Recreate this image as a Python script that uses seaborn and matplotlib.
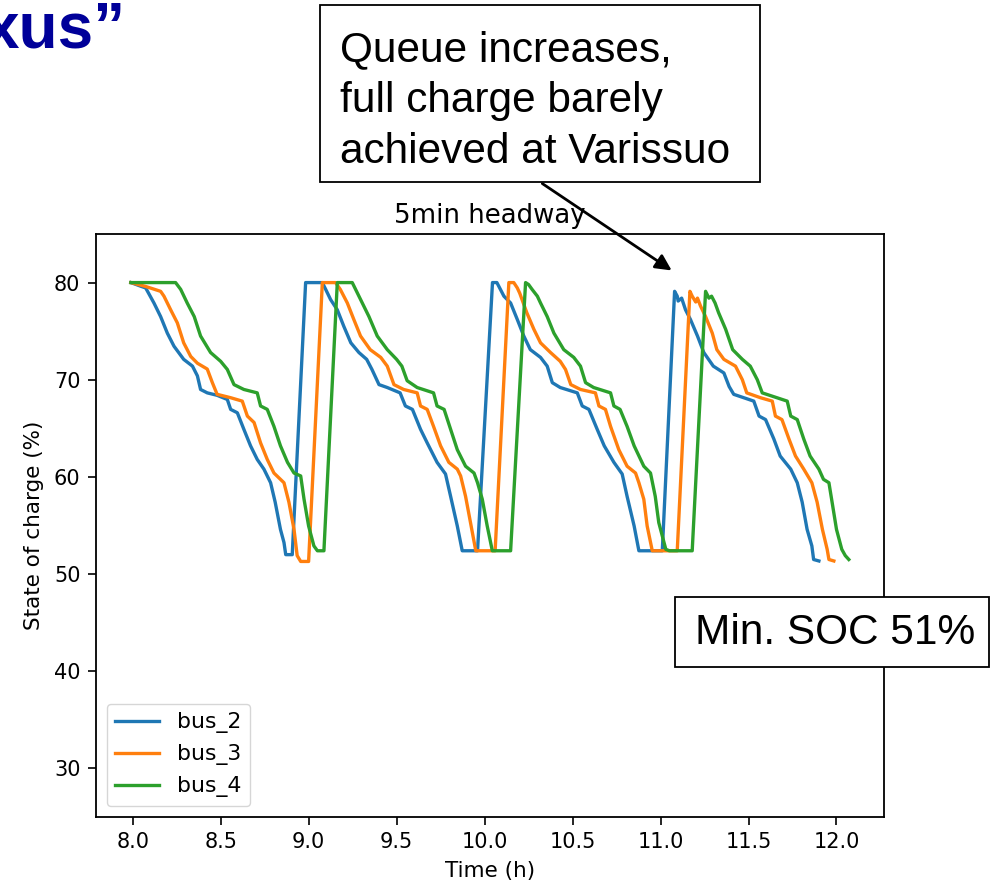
import matplotlib
matplotlib.use("Agg")
import matplotlib.pyplot as plt
import matplotlib.patches as mpatches
import seaborn as sns
import pandas as pd

# ---- data ----
bus2_t = [7.99, 8.05, 8.074, 8.121, 8.159, 8.197, 8.235, 8.29, 8.34, 8.368, 8.386, 8.424, 8.48, 8.538,
          8.557, 8.595, 8.632, 8.67, 8.708, 8.746, 8.784, 8.81, 8.84, 8.86, 8.87, 8.907, 8.983, 9.078,
          9.097, 9.125, 9.163, 9.2, 9.24, 9.286, 9.33, 9.36, 9.4, 9.447, 9.52, 9.55, 9.59, 9.636,
          9.674, 9.73, 9.778, 9.807, 9.845, 9.873, 9.96, 10.045, 10.07, 10.09, 10.11, 10.148, 10.186,
          10.223, 10.26, 10.318, 10.356, 10.385, 10.43, 10.527, 10.555, 10.593, 10.64, 10.68, 10.735,
          10.782, 10.81, 10.85, 10.877, 11.01, 11.08, 11.095, 11.10, 11.12, 11.142, 11.17, 11.21,
          11.246, 11.30, 11.36, 11.39, 11.416, 11.53, 11.56, 11.597, 11.644, 11.68, 11.74, 11.777,
          11.805, 11.833, 11.86, 11.87, 11.9]
bus2_soc = [80.0, 79.6, 79.45, 77.9, 76.5, 74.8, 73.45, 72.1, 71.4, 70.4, 69.0, 68.65, 68.4, 67.97,
            66.95, 66.6, 64.9, 63.2, 61.8, 60.8, 59.4, 57.4, 54.6, 53.25, 52.0, 52.0, 80.0, 80.0,
            79.3, 78.25, 77.2, 75.5, 73.8, 72.8, 72.1, 71.06, 69.5, 69.2, 68.65, 67.3, 66.95, 64.9,
            63.5, 61.5, 60.3, 58.0, 54.95, 52.4, 52.4, 80.0, 80.0, 79.3, 78.6, 77.9, 76.2,
            74.5, 73.1, 72.3, 71.4, 69.7, 69.2, 68.65, 67.3, 66.95, 64.9, 63.2, 61.5,
            60.3, 58.0, 54.95, 52.4, 52.4, 79.1, 78.6, 78.1, 78.4, 77.2, 76.2, 74.5,
            72.8, 71.4, 70.7, 69.3, 68.5, 67.8, 66.26, 65.9, 63.9, 62.15, 60.8, 59.4,
            57.4, 54.6, 52.9, 51.5, 51.35]

bus3_t = [7.99, 8.074, 8.159, 8.178, 8.216, 8.254, 8.29, 8.33, 8.368, 8.424, 8.453, 8.48, 8.557,
          8.623, 8.652, 8.69, 8.727, 8.765, 8.803, 8.86, 8.888, 8.917, 8.935, 8.955, 9.0, 9.078,
          9.153, 9.18, 9.22, 9.257, 9.295, 9.35, 9.41, 9.447, 9.485, 9.54, 9.617, 9.636, 9.674,
          9.71, 9.75, 9.797, 9.845, 9.864, 9.892, 9.92, 9.95, 10.06, 10.138, 10.166, 10.186, 10.2,
          10.24, 10.28, 10.318, 10.375, 10.43, 10.46, 10.49, 10.545, 10.63, 10.65, 10.687, 10.716,
          10.763, 10.81, 10.858, 10.877, 10.905, 10.924, 10.953, 11.095, 11.167, 11.18, 11.2, 11.21,
          11.227, 11.256, 11.294, 11.32, 11.36, 11.426, 11.465, 11.49, 11.568, 11.635, 11.653,
          11.69, 11.73, 11.767, 11.814, 11.86, 11.89, 11.92, 11.947, 11.957, 11.985]
bus3_soc = [80.0, 79.6, 79.1, 78.6, 77.2, 75.85, 73.8, 72.4, 71.7, 71.1, 69.7, 68.5, 68.15,
            67.8, 66.26, 65.6, 63.5, 61.8, 60.4, 59.4, 57.4, 54.6, 51.9, 51.3, 51.3, 80.0,
            80.0, 79.3, 77.9, 76.2, 74.5, 73.1, 72.3, 71.4, 69.5, 69.0, 68.65, 67.3, 66.95,
            65.2, 63.2, 61.5, 60.8, 60.1, 58.0, 55.3, 52.4, 52.4, 80.0, 80.0, 79.45, 78.9,
            76.9, 75.2, 73.8, 72.8, 71.9, 71.06, 69.5, 69.0, 68.65, 67.3, 66.95, 65.2,
            62.8, 61.1, 60.4, 59.4, 57.7, 54.95, 52.4, 52.4, 79.1, 78.6, 78.0, 78.4,
            77.6, 76.5, 74.8, 73.1, 72.1, 71.4, 70.0, 68.65, 68.15, 67.8, 66.26,
            65.9, 63.9, 62.15, 60.8, 59.4, 57.4, 54.6, 52.55, 51.5, 51.35]

bus4_t = [7.99, 8.244, 8.273, 8.31, 8.35, 8.386, 8.443, 8.5, 8.538, 8.576, 8.632, 8.708, 8.727,
          8.765, 8.803, 8.84, 8.88, 8.917, 8.955, 8.974, 9.0, 9.03, 9.05, 9.087, 9.163, 9.248,
          9.267, 9.305, 9.343, 9.39, 9.447, 9.5, 9.53, 9.56, 9.617, 9.71, 9.73, 9.77, 9.807,
          9.845, 9.892, 9.94, 9.96, 9.987, 10.015, 10.044, 10.148, 10.233, 10.25, 10.27, 10.3,
          10.318, 10.356, 10.394, 10.45, 10.507, 10.545, 10.574, 10.62, 10.716, 10.735, 10.77,
          10.81, 10.85, 10.905, 10.943, 10.97, 10.99, 11.03, 11.05, 11.18, 11.256, 11.275, 11.29,
          11.31, 11.33, 11.37, 11.41, 11.465, 11.51, 11.55, 11.578, 11.72, 11.74, 11.777, 11.814,
          11.85, 11.9, 11.926, 11.957, 11.975, 12.0, 12.03, 12.05, 12.07]
bus4_soc = [80.0, 80.0, 79.3, 77.9, 76.5, 74.5, 72.8, 71.9, 71.06, 69.5, 69.0, 68.65, 67.3,
            66.95, 65.2, 63.2, 61.5, 60.4, 60.1, 57.7, 54.95, 52.9, 52.4, 52.4, 80.0, 80.0,
            79.3, 77.9, 76.5, 74.5, 73.1, 72.1, 71.4, 69.9, 69.2, 68.65, 67.3, 66.95, 64.9,
            62.8, 61.1, 60.4, 59.4, 57.7, 54.95, 52.4, 52.4, 80.0, 79.8, 79.3, 78.6,
            77.9, 76.5, 74.8, 73.1, 72.3, 71.4, 69.7, 69.2, 68.65, 67.3, 66.95,
            65.2, 63.2, 61.1, 60.4, 58.0, 55.3, 52.55, 52.4, 52.4, 79.1, 78.4, 78.6,
            77.9, 76.9, 75.2, 73.1, 72.1, 71.4, 70.0, 68.65, 67.8, 66.26, 65.9, 63.9,
            62.15, 60.8, 59.75, 59.4, 57.4, 54.6, 52.55, 51.9, 51.5]

bus_names = ["bus_2", "bus_3", "bus_4"]
bus_colors = ["#1f77b4", "#ff7f0e", "#2ca02c"]
x_ticks = [8.0, 8.5, 9.0, 9.5, 10.0, 10.5, 11.0, 11.5, 12.0]
y_ticks = [30, 40, 50, 60, 70, 80]

series = {"bus_2": (bus2_t, bus2_soc), "bus_3": (bus3_t, bus3_soc), "bus_4": (bus4_t, bus4_soc)}

# ---- figure ----
W, H = 990, 883
fig = plt.figure(figsize=(W / 100, H / 100), dpi=100)
fig.patch.set_facecolor("white")

def fx(px):
    return px / W

def fy(py):
    return 1 - py / H

ax = fig.add_axes([fx(95.7), fy(817), fx(884) - fx(95.7), fy(234) - fy(817)])

for name, color in zip(bus_names, bus_colors):
    t, s = series[name]
    df = pd.DataFrame({"Time (h)": t, "SOC": s})
    sns.lineplot(data=df, x="Time (h)", y="SOC", ax=ax, color=color, label=name,
                 estimator=None, sort=False, linewidth=2.4)

ax.set_xlim(7.79, 12.27)
ax.set_ylim(25, 85)
ax.set_xticks(x_ticks)
ax.set_xticklabels([f"{v:.1f}" for v in x_ticks])
ax.set_yticks(y_ticks)
ax.tick_params(labelsize=15, length=5.5, width=1.2, pad=5.5, colors="black")
for sp in ax.spines.values():
    sp.set_linewidth(1.3)
    sp.set_color("black")
ax.set_xlabel("Time (h)", fontsize=15.5, labelpad=6)
ax.set_ylabel("State of charge (%)", fontsize=15.5, labelpad=7)
ax.set_title("5min headway", fontsize=18.7, pad=8)
leg = ax.legend(loc="lower left", fontsize=15.8, frameon=True)

# ---- slide overlays ----
fig.text(fx(-16), fy(48), "xus\u201d", fontsize=46, fontweight="bold", color="#000099",
         family="Liberation Sans", va="baseline", ha="left")

box1 = mpatches.Rectangle((fx(320), fy(182)), fx(760) - fx(320), fy(5) - fy(182),
                          transform=fig.transFigure, facecolor="white", edgecolor="black",
                          linewidth=1.3, zorder=5)
fig.patches.append(box1)
for txt, base in [("Queue increases,", 61), ("full charge barely", 112), ("achieved at Varissuo", 163)]:
    fig.text(fx(340), fy(base), txt, fontsize=30.5, family="Liberation Sans", va="baseline",
             ha="left", color="black", zorder=6)

box2 = mpatches.Rectangle((fx(675), fy(667)), fx(989) - fx(675), fy(597) - fy(667),
                          transform=fig.transFigure, facecolor="white", edgecolor="black",
                          linewidth=1.3, zorder=5)
fig.patches.append(box2)
fig.text(fx(695), fy(644), "Min. SOC 51%", fontsize=30.5, family="Liberation Sans",
         va="baseline", ha="left", color="black", zorder=6)

arrow = mpatches.FancyArrowPatch((fx(540), fy(182)), (fx(674), fy(272)),
                                 transform=fig.transFigure, arrowstyle="-|>",
                                 mutation_scale=24, linewidth=2.0, color="black", zorder=7)
fig.patches.append(arrow)

fig.savefig("out.png", dpi=100)
